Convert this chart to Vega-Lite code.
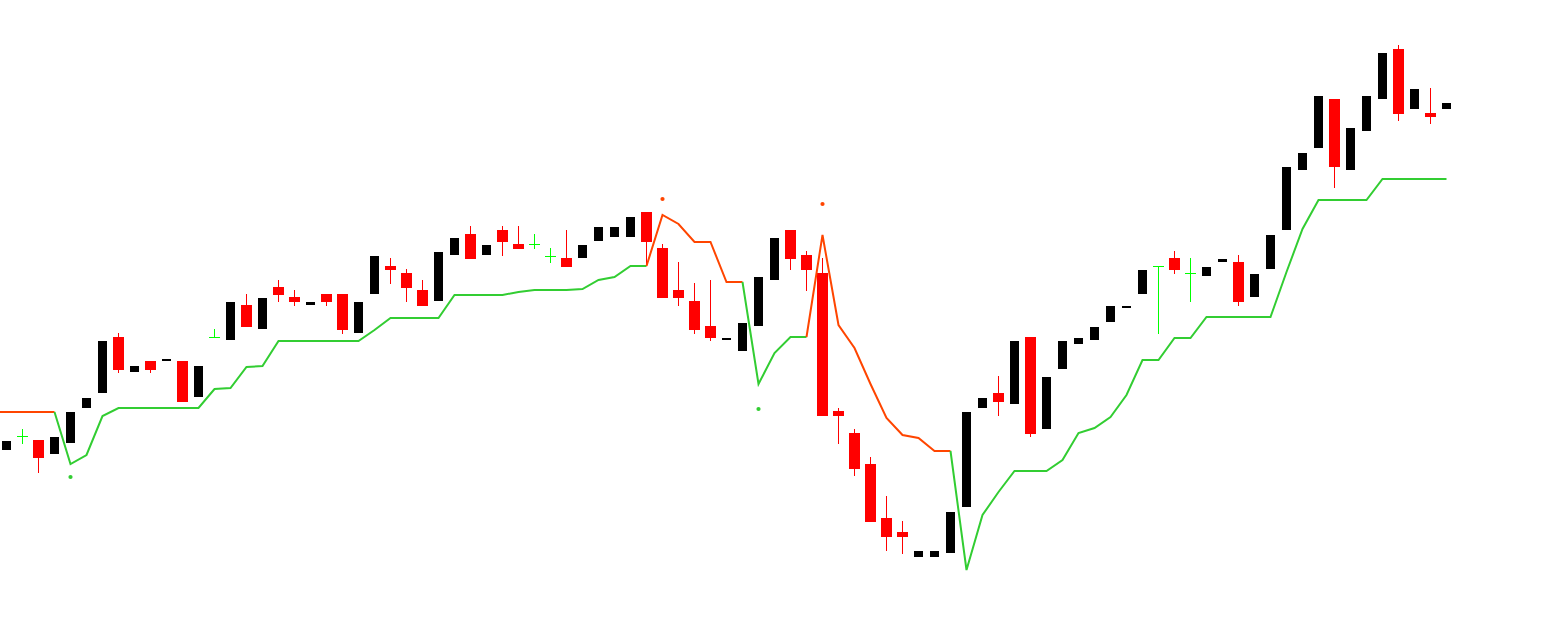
{
  "$schema": "https://vega.github.io/schema/vega-lite/v6.json",
  "width": 1547,
  "height": 632,
  "autosize": {"type": "fit", "contains": "padding"},
  "padding": 0,
  "background": "white",
  "config": {"view": {"stroke": null}},
  "datasets": {
    "candles": [
      {"i":0,"o":182,"h":191,"l":182,"c":191,"d":"up"},
      {"i":1,"o":195.5,"h":203,"l":188,"c":195.5,"d":"doji"},
      {"i":2,"o":192,"h":192,"l":159,"c":174,"d":"down"},
      {"i":3,"o":178,"h":195,"l":178,"c":195,"d":"up"},
      {"i":4,"o":189,"h":220,"l":189,"c":220,"d":"up"},
      {"i":5,"o":224,"h":234,"l":224,"c":234,"d":"up"},
      {"i":6,"o":239,"h":291,"l":239,"c":291,"d":"up"},
      {"i":7,"o":295,"h":299,"l":259,"c":262,"d":"down"},
      {"i":8,"o":260,"h":266,"l":260,"c":266,"d":"up"},
      {"i":9,"o":271,"h":271,"l":259,"c":262,"d":"down"},
      {"i":10,"o":271,"h":273,"l":271,"c":273,"d":"up"},
      {"i":11,"o":271,"h":271,"l":230,"c":230,"d":"down"},
      {"i":12,"o":235,"h":266,"l":235,"c":266,"d":"up"},
      {"i":13,"o":294.5,"h":303,"l":295,"c":294.5,"d":"doji"},
      {"i":14,"o":292,"h":330,"l":292,"c":330,"d":"up"},
      {"i":15,"o":327,"h":338,"l":305,"c":305,"d":"down"},
      {"i":16,"o":303,"h":334,"l":303,"c":334,"d":"up"},
      {"i":17,"o":345,"h":352,"l":330,"c":337,"d":"down"},
      {"i":18,"o":335,"h":342,"l":326,"c":330,"d":"down"},
      {"i":19,"o":327,"h":330,"l":327,"c":330,"d":"up"},
      {"i":20,"o":338,"h":338,"l":326,"c":330,"d":"down"},
      {"i":21,"o":338,"h":338,"l":298,"c":302,"d":"down"},
      {"i":22,"o":299,"h":330,"l":299,"c":330,"d":"up"},
      {"i":23,"o":338,"h":376,"l":338,"c":376,"d":"up"},
      {"i":24,"o":366,"h":374,"l":348,"c":362,"d":"down"},
      {"i":25,"o":359,"h":363,"l":330,"c":344,"d":"down"},
      {"i":26,"o":342,"h":352,"l":326,"c":326,"d":"down"},
      {"i":27,"o":331,"h":380,"l":331,"c":380,"d":"up"},
      {"i":28,"o":377,"h":394,"l":377,"c":394,"d":"up"},
      {"i":29,"o":398,"h":406,"l":373,"c":373,"d":"down"},
      {"i":30,"o":377,"h":387,"l":377,"c":387,"d":"up"},
      {"i":31,"o":402,"h":406,"l":376,"c":390,"d":"down"},
      {"i":32,"o":388,"h":406,"l":383,"c":383,"d":"down"},
      {"i":33,"o":387.5,"h":398,"l":383,"c":387.5,"d":"doji"},
      {"i":34,"o":375.5,"h":384,"l":369,"c":375.5,"d":"doji"},
      {"i":35,"o":374,"h":402,"l":365,"c":365,"d":"down"},
      {"i":36,"o":374,"h":387,"l":374,"c":387,"d":"up"},
      {"i":37,"o":391,"h":405,"l":391,"c":405,"d":"up"},
      {"i":38,"o":395,"h":405,"l":395,"c":405,"d":"up"},
      {"i":39,"o":395,"h":415,"l":395,"c":415,"d":"up"},
      {"i":40,"o":420,"h":420,"l":366,"c":390,"d":"down"},
      {"i":41,"o":384,"h":388,"l":334,"c":334,"d":"down"},
      {"i":42,"o":342,"h":370,"l":326,"c":334,"d":"down"},
      {"i":43,"o":331,"h":349,"l":298,"c":302,"d":"down"},
      {"i":44,"o":306,"h":352,"l":291,"c":294,"d":"down"},
      {"i":45,"o":292,"h":294,"l":292,"c":294,"d":"up"},
      {"i":46,"o":281,"h":309,"l":281,"c":309,"d":"up"},
      {"i":47,"o":306,"h":355,"l":306,"c":355,"d":"up"},
      {"i":48,"o":352,"h":394,"l":352,"c":394,"d":"up"},
      {"i":49,"o":402,"h":402,"l":362,"c":373,"d":"down"},
      {"i":50,"o":377,"h":381,"l":341,"c":362,"d":"down"},
      {"i":51,"o":359,"h":374,"l":216,"c":216,"d":"down"},
      {"i":52,"o":221,"h":224,"l":188,"c":216,"d":"down"},
      {"i":53,"o":199,"h":203,"l":156,"c":163,"d":"down"},
      {"i":54,"o":168,"h":175,"l":110,"c":110,"d":"down"},
      {"i":55,"o":114,"h":136,"l":81,"c":95,"d":"down"},
      {"i":56,"o":100,"h":111,"l":78,"c":95,"d":"down"},
      {"i":57,"o":75,"h":81,"l":75,"c":81,"d":"up"},
      {"i":58,"o":75,"h":81,"l":75,"c":81,"d":"up"},
      {"i":59,"o":79,"h":120,"l":79,"c":120,"d":"up"},
      {"i":60,"o":125,"h":220,"l":125,"c":220,"d":"up"},
      {"i":61,"o":224,"h":234,"l":224,"c":234,"d":"up"},
      {"i":62,"o":239,"h":256,"l":216,"c":230,"d":"down"},
      {"i":63,"o":228,"h":291,"l":228,"c":291,"d":"up"},
      {"i":64,"o":295,"h":295,"l":195,"c":198,"d":"down"},
      {"i":65,"o":203,"h":255,"l":203,"c":255,"d":"up"},
      {"i":66,"o":263,"h":291,"l":263,"c":291,"d":"up"},
      {"i":67,"o":288,"h":294,"l":288,"c":294,"d":"up"},
      {"i":68,"o":292,"h":305,"l":292,"c":305,"d":"up"},
      {"i":69,"o":310,"h":326,"l":310,"c":326,"d":"up"},
      {"i":70,"o":324,"h":326,"l":324,"c":326,"d":"up"},
      {"i":71,"o":338,"h":362,"l":338,"c":362,"d":"up"},
      {"i":72,"o":365.5,"h":366,"l":298,"c":365.5,"d":"doji"},
      {"i":73,"o":374,"h":381,"l":358,"c":362,"d":"down"},
      {"i":74,"o":358.5,"h":374,"l":330,"c":358.5,"d":"doji"},
      {"i":75,"o":356,"h":365,"l":356,"c":365,"d":"up"},
      {"i":76,"o":370,"h":373,"l":370,"c":373,"d":"up"},
      {"i":77,"o":370,"h":377,"l":326,"c":330,"d":"down"},
      {"i":78,"o":335,"h":358,"l":335,"c":358,"d":"up"},
      {"i":79,"o":363,"h":397,"l":363,"c":397,"d":"up"},
      {"i":80,"o":402,"h":465,"l":402,"c":465,"d":"up"},
      {"i":81,"o":462,"h":479,"l":462,"c":479,"d":"up"},
      {"i":82,"o":484,"h":536,"l":484,"c":536,"d":"up"},
      {"i":83,"o":533,"h":533,"l":444,"c":465,"d":"down"},
      {"i":84,"o":462,"h":504,"l":462,"c":504,"d":"up"},
      {"i":85,"o":501,"h":536,"l":501,"c":536,"d":"up"},
      {"i":86,"o":533,"h":579,"l":533,"c":579,"d":"up"},
      {"i":87,"o":583,"h":587,"l":511,"c":518,"d":"down"},
      {"i":88,"o":523,"h":543,"l":523,"c":543,"d":"up"},
      {"i":89,"o":519,"h":544,"l":508,"c":515,"d":"down"},
      {"i":90,"o":523,"h":529,"l":523,"c":529,"d":"up"}
    ],
    "stop": [
      {"i":-1,"v":220,"seg":1,"trend":"bear"},
      {"i":0,"v":220,"seg":1,"trend":"bear"},
      {"i":1,"v":220,"seg":1,"trend":"bear"},
      {"i":2,"v":220,"seg":1,"trend":"bear"},
      {"i":3,"v":220,"seg":1,"trend":"bear"},
      {"i":3,"v":220,"seg":2,"trend":"bull"},
      {"i":4,"v":168,"seg":2,"trend":"bull"},
      {"i":5,"v":177,"seg":2,"trend":"bull"},
      {"i":6,"v":216,"seg":2,"trend":"bull"},
      {"i":7,"v":224,"seg":2,"trend":"bull"},
      {"i":8,"v":224,"seg":2,"trend":"bull"},
      {"i":9,"v":224,"seg":2,"trend":"bull"},
      {"i":10,"v":224,"seg":2,"trend":"bull"},
      {"i":11,"v":224,"seg":2,"trend":"bull"},
      {"i":12,"v":224,"seg":2,"trend":"bull"},
      {"i":13,"v":243,"seg":2,"trend":"bull"},
      {"i":14,"v":244,"seg":2,"trend":"bull"},
      {"i":15,"v":265,"seg":2,"trend":"bull"},
      {"i":16,"v":266,"seg":2,"trend":"bull"},
      {"i":17,"v":291,"seg":2,"trend":"bull"},
      {"i":18,"v":291,"seg":2,"trend":"bull"},
      {"i":19,"v":291,"seg":2,"trend":"bull"},
      {"i":20,"v":291,"seg":2,"trend":"bull"},
      {"i":21,"v":291,"seg":2,"trend":"bull"},
      {"i":22,"v":291,"seg":2,"trend":"bull"},
      {"i":23,"v":302,"seg":2,"trend":"bull"},
      {"i":24,"v":314,"seg":2,"trend":"bull"},
      {"i":25,"v":314,"seg":2,"trend":"bull"},
      {"i":26,"v":314,"seg":2,"trend":"bull"},
      {"i":27,"v":314,"seg":2,"trend":"bull"},
      {"i":28,"v":337,"seg":2,"trend":"bull"},
      {"i":29,"v":337,"seg":2,"trend":"bull"},
      {"i":30,"v":337,"seg":2,"trend":"bull"},
      {"i":31,"v":337,"seg":2,"trend":"bull"},
      {"i":32,"v":340,"seg":2,"trend":"bull"},
      {"i":33,"v":342,"seg":2,"trend":"bull"},
      {"i":34,"v":342,"seg":2,"trend":"bull"},
      {"i":35,"v":342,"seg":2,"trend":"bull"},
      {"i":36,"v":343,"seg":2,"trend":"bull"},
      {"i":37,"v":352,"seg":2,"trend":"bull"},
      {"i":38,"v":355,"seg":2,"trend":"bull"},
      {"i":39,"v":366,"seg":2,"trend":"bull"},
      {"i":40,"v":366,"seg":2,"trend":"bull"},
      {"i":40,"v":366,"seg":3,"trend":"bear"},
      {"i":41,"v":417,"seg":3,"trend":"bear"},
      {"i":42,"v":408,"seg":3,"trend":"bear"},
      {"i":43,"v":390,"seg":3,"trend":"bear"},
      {"i":44,"v":390,"seg":3,"trend":"bear"},
      {"i":45,"v":350,"seg":3,"trend":"bear"},
      {"i":46,"v":350,"seg":3,"trend":"bear"},
      {"i":46,"v":350,"seg":4,"trend":"bull"},
      {"i":47,"v":248,"seg":4,"trend":"bull"},
      {"i":48,"v":279,"seg":4,"trend":"bull"},
      {"i":49,"v":295,"seg":4,"trend":"bull"},
      {"i":50,"v":295,"seg":4,"trend":"bull"},
      {"i":50,"v":295,"seg":5,"trend":"bear"},
      {"i":51,"v":397,"seg":5,"trend":"bear"},
      {"i":52,"v":307,"seg":5,"trend":"bear"},
      {"i":53,"v":284,"seg":5,"trend":"bear"},
      {"i":54,"v":248,"seg":5,"trend":"bear"},
      {"i":55,"v":214,"seg":5,"trend":"bear"},
      {"i":56,"v":197,"seg":5,"trend":"bear"},
      {"i":57,"v":194,"seg":5,"trend":"bear"},
      {"i":58,"v":181,"seg":5,"trend":"bear"},
      {"i":59,"v":181,"seg":5,"trend":"bear"},
      {"i":59,"v":181,"seg":6,"trend":"bull"},
      {"i":60,"v":62,"seg":6,"trend":"bull"},
      {"i":61,"v":117,"seg":6,"trend":"bull"},
      {"i":62,"v":140,"seg":6,"trend":"bull"},
      {"i":63,"v":161,"seg":6,"trend":"bull"},
      {"i":64,"v":161,"seg":6,"trend":"bull"},
      {"i":65,"v":161,"seg":6,"trend":"bull"},
      {"i":66,"v":172,"seg":6,"trend":"bull"},
      {"i":67,"v":199,"seg":6,"trend":"bull"},
      {"i":68,"v":204,"seg":6,"trend":"bull"},
      {"i":69,"v":215,"seg":6,"trend":"bull"},
      {"i":70,"v":237,"seg":6,"trend":"bull"},
      {"i":71,"v":272,"seg":6,"trend":"bull"},
      {"i":72,"v":272,"seg":6,"trend":"bull"},
      {"i":73,"v":294,"seg":6,"trend":"bull"},
      {"i":74,"v":294,"seg":6,"trend":"bull"},
      {"i":75,"v":315,"seg":6,"trend":"bull"},
      {"i":76,"v":315,"seg":6,"trend":"bull"},
      {"i":77,"v":315,"seg":6,"trend":"bull"},
      {"i":78,"v":315,"seg":6,"trend":"bull"},
      {"i":79,"v":315,"seg":6,"trend":"bull"},
      {"i":80,"v":360,"seg":6,"trend":"bull"},
      {"i":81,"v":403,"seg":6,"trend":"bull"},
      {"i":82,"v":432,"seg":6,"trend":"bull"},
      {"i":83,"v":432,"seg":6,"trend":"bull"},
      {"i":84,"v":432,"seg":6,"trend":"bull"},
      {"i":85,"v":432,"seg":6,"trend":"bull"},
      {"i":86,"v":453,"seg":6,"trend":"bull"},
      {"i":87,"v":453,"seg":6,"trend":"bull"},
      {"i":88,"v":453,"seg":6,"trend":"bull"},
      {"i":89,"v":453,"seg":6,"trend":"bull"},
      {"i":90,"v":453,"seg":6,"trend":"bull"}
    ],
    "dots": [
      {"i":4,"v":155,"trend":"bull"},
      {"i":41,"v":433,"trend":"bear"},
      {"i":47,"v":223,"trend":"bull"},
      {"i":51,"v":428,"trend":"bear"}
    ]
  },
  "encoding": {
    "x": {"field": "i", "type": "quantitative", "scale": {"domain": [-0.40625, 96.28125], "nice": false, "zero": false, "padding": 0}, "axis": null}
  },
  "layer": [
    {
      "data": {"name": "candles"},
      "transform": [{"filter": "datum.d == 'down'"}],
      "mark": {"type": "rule", "color": "#FF0000", "strokeWidth": 1},
      "encoding": {
        "y": {"field": "h", "type": "quantitative", "scale": {"domain": [0, 632], "nice": false, "zero": false, "padding": 0}, "axis": null},
        "y2": {"field": "l"}
      }
    },
    {
      "data": {"name": "candles"},
      "transform": [{"filter": "datum.d == 'down'"}],
      "mark": {"type": "bar", "color": "#FF0000", "size": 11},
      "encoding": {
        "y": {"field": "o", "type": "quantitative"},
        "y2": {"field": "c"}
      }
    },
    {
      "data": {"name": "candles"},
      "transform": [{"filter": "datum.d == 'up'"}],
      "mark": {"type": "bar", "color": "#000000", "size": 9},
      "encoding": {
        "y": {"field": "o", "type": "quantitative"},
        "y2": {"field": "c"}
      }
    },
    {
      "data": {"name": "candles"},
      "transform": [{"filter": "datum.d == 'doji'"}],
      "mark": {"type": "rule", "color": "#00FF00", "strokeWidth": 1},
      "encoding": {
        "y": {"field": "h", "type": "quantitative"},
        "y2": {"field": "l"}
      }
    },
    {
      "data": {"name": "candles"},
      "transform": [{"filter": "datum.d == 'doji'"}],
      "mark": {"type": "tick", "color": "#00FF00", "orient": "horizontal", "size": 11, "thickness": 1, "opacity": 1},
      "encoding": {
        "y": {"field": "o", "type": "quantitative"}
      }
    },
    {
      "data": {"name": "stop"},
      "mark": {"type": "line", "strokeWidth": 2, "clip": true},
      "encoding": {
        "y": {"field": "v", "type": "quantitative"},
        "detail": {"field": "seg", "type": "nominal"},
        "color": {"field": "trend", "type": "nominal", "scale": {"domain": ["bull", "bear"], "range": ["#32CD32", "#FF4500"]}, "legend": null}
      }
    },
    {
      "data": {"name": "dots"},
      "mark": {"type": "point", "filled": true, "size": 18, "opacity": 1},
      "encoding": {
        "y": {"field": "v", "type": "quantitative"},
        "color": {"field": "trend", "type": "nominal", "legend": null}
      }
    }
  ]
}
